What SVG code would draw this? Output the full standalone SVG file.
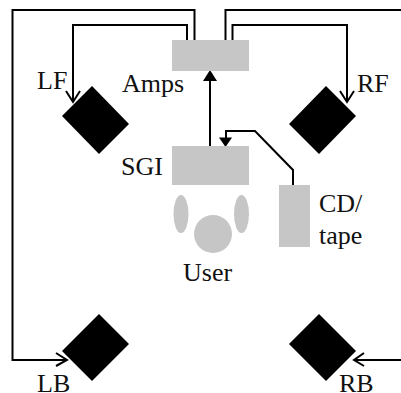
<svg xmlns="http://www.w3.org/2000/svg" width="401" height="393" viewBox="0 0 401 393">
<style>
.g{fill:#c6c6c6}
.k{fill:#000}
.c{fill:none;stroke:#000;stroke-width:2}
text{font-family:"Liberation Serif","Times New Roman",serif;font-size:26px;fill:#111}
</style>
<rect width="401" height="393" fill="#fff"/>
<g id="connectors">
<path class="c" d="M194.500 41V10H12.500V360H65"/>
<path class="c" d="M187 41V25H73V100"/>
<path class="c" d="M225.500 41V10H401"/>
<path class="c" d="M232.500 41V25H347V100"/>
<path class="c" d="M210 146V78"/>
<polygon class="k" points="210,70 203,81 217,81"/>
<path class="c" d="M293 185V170L255 131H226V140"/>
<polygon class="k" points="225.500,147 219,137.500 232,137.500"/>
<path class="c" d="M401 360H355"/>
<path class="c" d="M66 91L73 102L80 91M56 353L67 360L56 366M364 353L354 360L364 366M340 91L347 102L354 91"/>
</g>
<g id="amps"><rect class="g" x="172" y="40" width="77" height="31"/><text x="122" y="92">Amps</text></g>
<g id="sgi"><rect class="g" x="172" y="146" width="77" height="39"/><text x="121" y="175">SGI</text></g>
<g id="cd"><rect class="g" x="279" y="185" width="31" height="62"/><text x="319" y="212">CD/</text><text x="319" y="244">tape</text></g>
<g id="user"><circle class="g" cx="213" cy="234" r="19"/><ellipse class="g" cx="181" cy="214" rx="7.500" ry="19"/><ellipse class="g" cx="241.500" cy="214" rx="7.500" ry="19"/><text x="183" y="281">User</text></g>
<g id="lf"><polygon class="k" points="92,86 129,124 99,154 62,116"/><text x="37" y="89">LF</text></g>
<g id="rf"><polygon class="k" points="326,86 356,116 319,154 289,124"/><text x="357" y="92">RF</text></g>
<g id="lb"><polygon class="k" points="99,314 129,344 92,381 62,351"/><text x="37" y="392">LB</text></g>
<g id="rb"><polygon class="k" points="319,314 356,351 326,381 289,344"/><text x="339" y="392">RB</text></g>
</svg>
